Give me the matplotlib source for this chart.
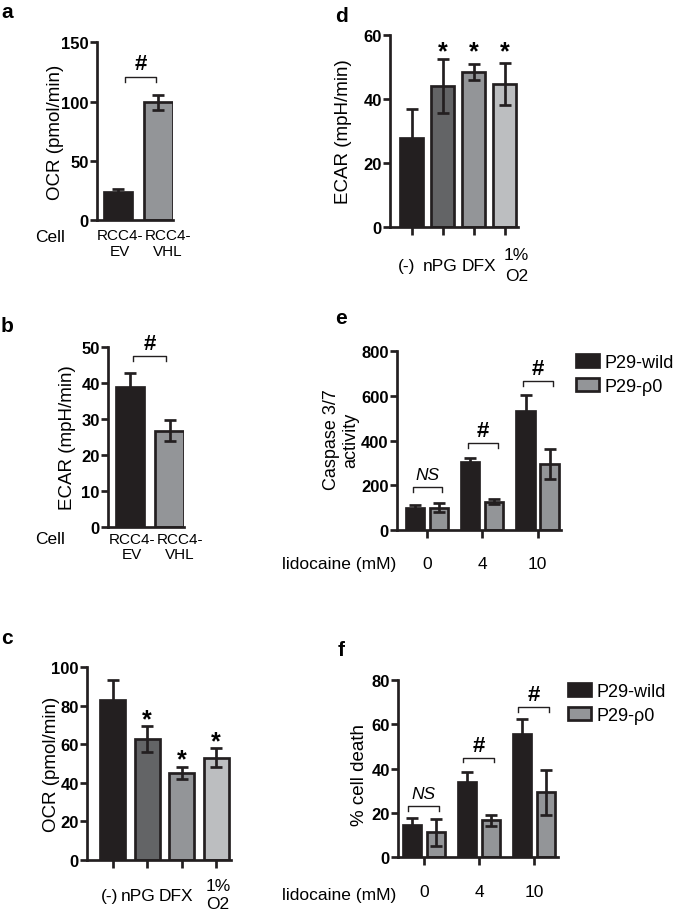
import matplotlib
matplotlib.use("Agg")
import matplotlib.pyplot as plt
from matplotlib.patches import Patch
import numpy as np

plt.rcParams['font.family'] = ['Liberation Sans', 'DejaVu Sans']

# ---------------- data ----------------
a_labels = ["RCC4-\nEV", "RCC4-\nVHL"]
a_vals = [23.9, 99.3]
a_err = [2.3, 6.6]

b_labels = ["RCC4-\nEV", "RCC4-\nVHL"]
b_vals = [39.0, 26.8]
b_err = [3.8, 2.8]

cd_labels = ["(-)", "nPG", "DFX", "1%\nO2"]
c_vals = [83.0, 62.8, 45.2, 53.0]
c_err = [10.3, 6.7, 3.2, 5.0]
d_vals = [27.8, 44.1, 48.5, 44.7]
d_err = [9.0, 8.5, 2.5, 6.5]

dose_labels = ["0", "4", "10"]
series_names = ["P29-wild", "P29-ρ0"]
e_wild = [97, 302, 534]
e_wild_err = [14, 19, 70]
e_rho = [99, 126, 295]
e_rho_err = [21, 12, 69]
f_wild = [14.5, 33.8, 55.8]
f_wild_err = [3.2, 4.6, 6.4]
f_rho = [11.2, 16.7, 29.3]
f_rho_err = [6.0, 2.5, 10.2]

# ---------------- styling ----------------
W, H = 675, 920
BLACK = '#231f20'
GREY = '#939598'
CD_COLORS = ['#231f20', '#636466', '#939598', '#bcbec0']
TICKFS = 12
LABFS = 13.5
LW = 1.5

fig = plt.figure(figsize=(W / 100, H / 100), dpi=100)


def add_ax(l, t, r, b):
    return fig.add_axes([l / W, 1 - b / H, (r - l) / W, (b - t) / H])


def ftext(x, y, s, **kw):
    fig.text(x / W, 1 - y / H, s, **kw)


def style(ax, ymax, ystep, xticks=True):
    ax.set_ylim(0, ymax)
    ax.set_yticks(np.arange(0, ymax + 0.1, ystep))
    for s in ['top', 'right']:
        ax.spines[s].set_visible(False)
    for s in ['left', 'bottom']:
        ax.spines[s].set_linewidth(LW * 1.3)
        ax.spines[s].set_color(BLACK)
    ax.tick_params(axis='y', length=5, width=LW * 1.3, labelsize=TICKFS, pad=1, color=BLACK)
    for lab in ax.get_yticklabels():
        lab.set_fontweight('bold')
    if xticks:
        ax.tick_params(axis='x', length=6, width=LW * 1.3, color=BLACK)
    else:
        ax.tick_params(axis='x', length=0)
    ax.patch.set_alpha(0)


def bars(ax, x, vals, errs, colors, width):
    ax.bar(x, vals, width=width, color=colors, edgecolor=BLACK, linewidth=LW * 1.3, zorder=2)
    ax.errorbar(x, vals, yerr=errs, fmt='none', ecolor=BLACK, elinewidth=LW * 1.3,
                capsize=4.5, capthick=LW * 1.3, zorder=3)


def bracket(ax, x1, x2, y, drop, label, italic=False, off=9):
    ax.plot([x1, x1, x2, x2], [y - drop, y, y, y - drop], color=BLACK, lw=1.0,
            zorder=3, clip_on=False)
    ax.annotate(label, xy=((x1 + x2) / 2, y), xytext=(0, off), textcoords='offset points',
                ha='center', va='center', fontsize=16 if not italic else 12.5,
                fontweight='bold' if not italic else 'normal',
                fontstyle='italic' if italic else 'normal', annotation_clip=False)


def two_row_labels(ax, labels, dx_px, pad_px, fs):
    for i, lab in enumerate(labels):
        ax.annotate(lab, xy=(i, 0), xycoords=('data', 'axes fraction'),
                    xytext=(dx_px[i] * 0.72, -pad_px * 0.72), textcoords='offset points',
                    ha='center', va='top', fontsize=fs, linespacing=1.15,
                    annotation_clip=False)


# ---------------- panel a ----------------
ax = add_ax(97, 43.3, 173, 221)
x = np.arange(len(a_vals))
bars(ax, x, a_vals, a_err, [BLACK, GREY], 0.72)
ax.set_xlim(-0.525, 1.37)
style(ax, 150, 50, xticks=False)
ax.set_xticks(x)
ax.set_xticklabels([])
two_row_labels(ax, a_labels, [2, 10], 8, 11)
bracket(ax, 0.18, 0.95, 120.5, 4.2, '#', off=10)
ftext(55, 132, "OCR (pmol/min)", rotation=90, ha='center', va='center', fontsize=LABFS)
ftext(50, 237, "Cell", ha='center', va='center', fontsize=12.5)
ftext(7, 13, "a", ha='center', va='center', fontsize=15, fontweight='bold')

# ---------------- panel b ----------------
ax = add_ax(108, 348.3, 184, 527.7)
x = np.arange(len(b_vals))
bars(ax, x, b_vals, b_err, [BLACK, GREY], 0.71)
ax.set_xlim(-0.557, 1.367)
style(ax, 50, 10, xticks=False)
ax.set_xticks(x)
ax.set_xticklabels([])
two_row_labels(ax, b_labels, [2, 10], 5, 11)
bracket(ax, 0.08, 0.91, 47.5, 1.4, '#', off=9)
ftext(68, 438, "ECAR (mpH/min)", rotation=90, ha='center', va='center', fontsize=LABFS)
ftext(50, 540, "Cell", ha='center', va='center', fontsize=12.5)
ftext(7, 326, "b", ha='center', va='center', fontsize=15, fontweight='bold')


def cd_xlabels(ax, y_main, y_top, y_bot, dxs):
    for i, lab in enumerate(cd_labels):
        if "\n" in lab:
            t1, t2 = lab.split("\n")
            for t, yy in ((t1, y_top), (t2, y_bot)):
                ax.annotate(t, xy=(i, 0), xycoords=('data', 'axes fraction'),
                            xytext=(dxs[i] * 0.72, -yy * 0.72), textcoords='offset points',
                            ha='center', va='center', fontsize=12.5, annotation_clip=False)
        else:
            ax.annotate(lab, xy=(i, 0), xycoords=('data', 'axes fraction'),
                        xytext=(dxs[i] * 0.72, -y_main * 0.72), textcoords='offset points',
                        ha='center', va='center', fontsize=12.5, annotation_clip=False)


# ---------------- panel c ----------------
ax = add_ax(87, 668, 231, 861)
x = np.arange(len(c_vals))
bars(ax, x, c_vals, c_err, CD_COLORS, 0.73)
ax.set_xlim(-0.745, 3.43)
style(ax, 100, 20)
ax.set_xticks(x)
ax.set_xticklabels([])
for i in range(1, 4):
    ax.text(i, c_vals[i] + c_err[i], "*", ha='center', va='baseline', fontsize=18,
            fontweight='bold')
cd_xlabels(ax, 36, 26, 44, (-3.5, -9, -6, 2))
ftext(52, 764, "OCR (pmol/min)", rotation=90, ha='center', va='center', fontsize=LABFS)
ftext(7, 638, "c", ha='center', va='center', fontsize=15, fontweight='bold')

# ---------------- panel d ----------------
ax = add_ax(390, 36, 518, 227.7)
x = np.arange(len(d_vals))
bars(ax, x, d_vals, d_err, CD_COLORS, 0.74)
ax.set_xlim(-0.70, 3.43)
style(ax, 60, 20)
ax.set_xticks(x)
ax.set_xticklabels([])
for i in range(1, 4):
    ax.text(i, 52.8, "*", ha='center', va='baseline', fontsize=18, fontweight='bold')
cd_xlabels(ax, 39, 28, 49, (-5, -3, 5, 12))
ftext(344, 132, "ECAR (mpH/min)", rotation=90, ha='center', va='center', fontsize=LABFS)
ftext(341, 16, "d", ha='center', va='center', fontsize=15, fontweight='bold')


def grouped(ax, wild, wild_err, rho, rho_err, off, width):
    x = np.arange(len(wild))
    ax.bar(x - off, wild, width=width, color=BLACK, edgecolor=BLACK, linewidth=LW * 1.3,
           zorder=2, label=series_names[0])
    ax.bar(x + off, rho, width=width, color=GREY, edgecolor=BLACK, linewidth=LW * 1.3,
           zorder=2, label=series_names[1])
    ax.errorbar(x - off, wild, yerr=wild_err, fmt='none', ecolor=BLACK, elinewidth=LW * 1.3,
                capsize=4.5, capthick=LW * 1.3, zorder=3)
    ax.errorbar(x + off, rho, yerr=rho_err, fmt='none', ecolor=BLACK, elinewidth=LW * 1.3,
                capsize=4.5, capthick=LW * 1.3, zorder=3)
    return x


def legend_at(left, top):
    handles = [Patch(facecolor=BLACK, edgecolor=BLACK, linewidth=LW * 1.3),
               Patch(facecolor=GREY, edgecolor=BLACK, linewidth=LW * 1.3)]
    fig.legend(handles, series_names, loc='upper left',
               bbox_to_anchor=(left / W, 1 - top / H), bbox_transform=fig.transFigure,
               frameon=False, fontsize=13, handlelength=1.3, handleheight=0.75,
               handletextpad=0.3, labelspacing=0.38, borderpad=0, borderaxespad=0)


# ---------------- panel e ----------------
ax = add_ax(397, 352.3, 561, 530.7)
x = grouped(ax, e_wild, e_wild_err, e_rho, e_rho_err, 0.217, 0.33)
ax.set_xlim(-0.543, 2.425)
style(ax, 800, 200)
ax.set_xticks(x)
ax.set_xticklabels(dose_labels, fontsize=12.5)
ax.tick_params(axis='x', pad=13)
e_br = [(190, 'NS', True), (389, '#', False), (668, '#', False)]
for i, (yv, lab, it) in enumerate(e_br):
    bracket(ax, i - 0.26, i + 0.28, yv, 22, lab, italic=it, off=9)
ftext(341, 440, "Caspase 3/7\nactivity", rotation=90, ha='center', va='center',
      fontsize=13, linespacing=1.2)
ftext(396, 565, "lidocaine (mM)", ha='right', va='center', fontsize=12.5)
legend_at(576, 355)
ftext(341, 318, "e", ha='center', va='center', fontsize=15, fontweight='bold')

# ---------------- panel f ----------------
ax = add_ax(398, 681, 558, 858.3)
x = grouped(ax, f_wild, f_wild_err, f_rho, f_rho_err, 0.218, 0.33)
ax.set_xlim(-0.473, 2.436)
style(ax, 80, 20)
ax.set_xticks(x)
ax.set_xticklabels(dose_labels, fontsize=12.5)
ax.tick_params(axis='x', pad=13)
f_br = [(23.2, 'NS', True), (45.0, '#', False), (67.8, '#', False)]
for i, (yv, lab, it) in enumerate(f_br):
    bracket(ax, i - 0.29, i + 0.27, yv, 2.2, lab, italic=it, off=9)
ftext(360, 775, "% cell death", rotation=90, ha='center', va='center', fontsize=LABFS)
ftext(396, 896, "lidocaine (mM)", ha='right', va='center', fontsize=12.5)
legend_at(568, 684)
ftext(341, 650, "f", ha='center', va='center', fontsize=15, fontweight='bold')

fig.savefig("out.png", dpi=100)
